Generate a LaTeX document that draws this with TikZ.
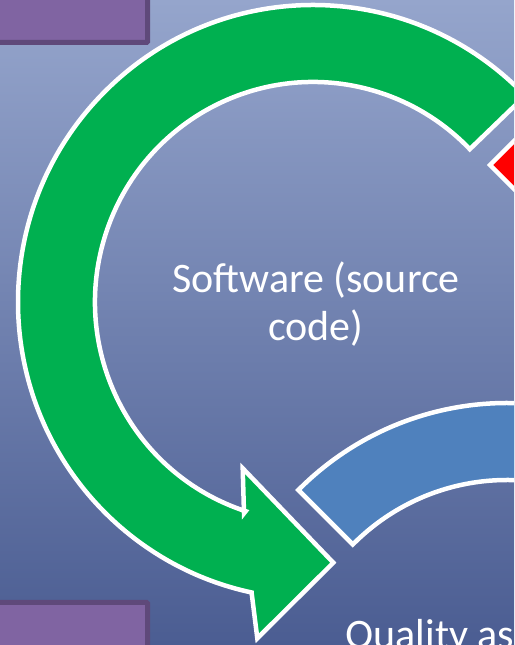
\documentclass[tikz,border=0pt]{standalone}
\usepackage{fontspec}
\setmainfont{Carlito}
\usetikzlibrary{calc}
\definecolor{pfeilgruen}{HTML}{00B050}
\definecolor{pfeilblau}{HTML}{4F81BD}
\definecolor{lila}{HTML}{8064A2}
\definecolor{lilarand}{HTML}{5F497A}
\definecolor{hgoben}{HTML}{95A5CC}
\definecolor{hgmitte}{HTML}{7383B2}
\definecolor{hgunten}{HTML}{4B5D92}
\tikzset{pfeil/.style={draw=white, line width=4.5},
    kasten/.style={fill=lila, draw=lilarand, line width=5, rounded corners=1},
    schrift/.style={text=white, font=\fontsize{42}{48}\selectfont}}
\begin{document}
\begin{tikzpicture}[x=1pt, y=1pt]
    \useasboundingbox (0,0) rectangle (514,645);
    \clip (0,0) rectangle (514,645);
    \shade[top color=hgoben, middle color=hgmitte, bottom color=hgunten] (0,0) rectangle (514,645); %Hintergrund
    \draw[kasten] (-10,602.5) rectangle (147.5,660);
    \draw[kasten] (-10,-10) rectangle (147.5,42.5);
    \coordinate (gm) at (313,343); %Mitte gruen
    \coordinate (bm) at (507,-55); %Mitte blau
    \filldraw[pfeil, fill=red] (490,480) -- (530,520) -- (570,480) -- (530,440) -- cycle;
    \filldraw[pfeil, fill=pfeilblau] ($(bm)+(135:295 and 297)$) arc[start angle=135, end angle=40, x radius=295, y radius=297]
        -- ($(bm)+(40:218 and 220)$) arc[start angle=40, end angle=135, x radius=218, y radius=220] -- cycle;
    \filldraw[pfeil, fill=pfeilgruen] ($(gm)+(44:295 and 297)$) arc[start angle=44, end angle=258, x radius=295, y radius=297]
        -- (251.7,51.7) -- (257.3,6.7) -- (333.3,82.3) -- (242.7,176.7) -- (244,131.7) %Spitze
        -- ($(gm)+(252:218 and 220)$) arc[start angle=252, end angle=44, x radius=218, y radius=220] -- cycle;
    \node[schrift, align=center, anchor=base] (sw) at (316,304) {Software (source\\code)};
    \node[schrift, anchor=base west] (qa) at (342,-4) {Quality assurance};
\end{tikzpicture}
\end{document}
